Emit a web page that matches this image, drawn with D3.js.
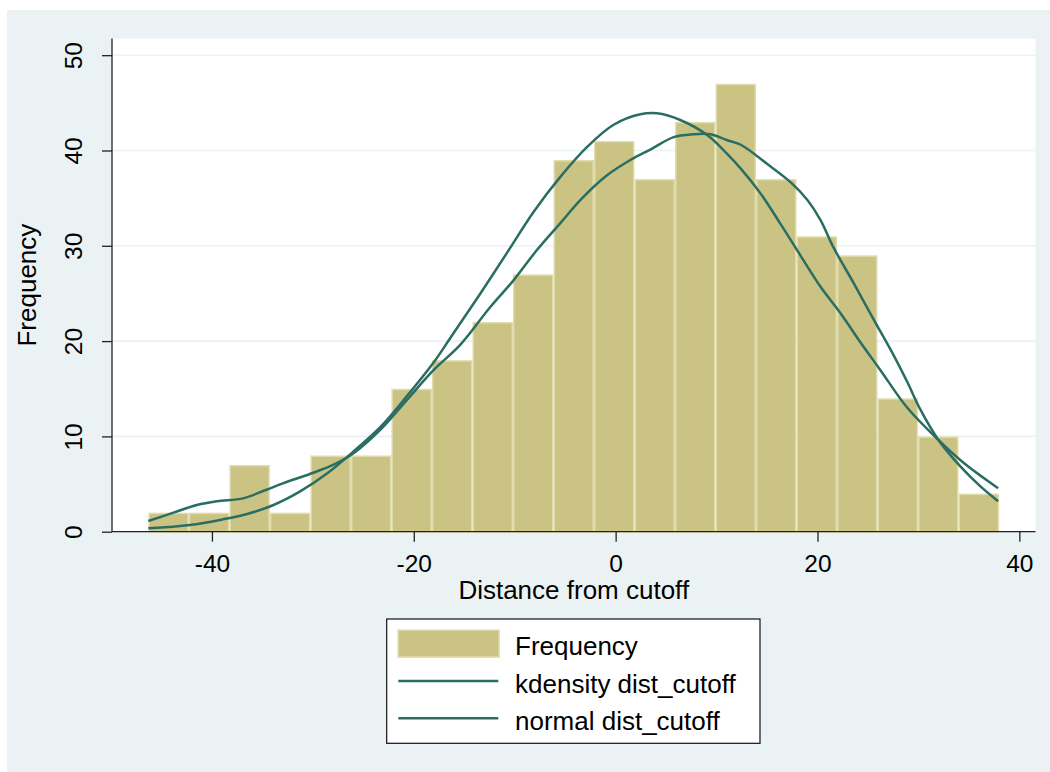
<!DOCTYPE html>
<html lang="en">
  <head>
    <meta charset="UTF-8" />
    <title>Distance from cutoff</title>
    <style>
      body {
        margin: 0;
        background: #ffffff;
      }
      svg {
        display: block;
        font-family: 'Liberation Sans', Arial, sans-serif;
      }
    </style>
  </head>
  <body>
    <svg width="1050" height="772"></svg>
    <script src="https://d3js.org/d3.v7.min.js"></script>
    <script>
      // histogram bins
      const binStart = -46.3;
      const binWidth = 4.014;
      const counts = [2, 2, 7, 2, 8, 8, 15, 18, 22, 27, 39, 41, 37, 43, 47, 37, 31, 29, 14, 10, 4];

      // kdensity curve
      const kdensX = [-46.3, -43.8, -41.5, -39.5, -36.9, -34.6, -32.9, -30.3, -28.0, -26.0, -23.3, -20.7,
        -18.0, -15.4, -12.4, -10.1, -7.8, -5.5, -3.5, -0.85, 1.46, 3.44, 5.75, 7.7, 9.4, 11.0, 12.4,
        15.0, 17.3, 19.0, 20.3, 21.6, 23.6, 25.6, 27.6, 28.9, 30.2, 32.0, 34.2, 36.2, 37.9];
      const kdensY = [1.12, 2.0, 2.8, 3.2, 3.5, 4.4, 5.1, 6.05, 7.0, 8.2, 10.7, 13.8,
        17.0, 19.6, 23.6, 26.4, 29.55, 32.35, 34.8, 37.4, 39.0, 40.1, 41.4, 41.7, 41.7, 41.1, 40.6,
        38.6, 36.7, 34.8, 32.7, 29.8, 26.05, 22.2, 18.4, 15.7, 12.8, 9.6, 6.8, 4.7, 3.2];

      // normal curve
      const normX = [-46.3, -42.2, -38.9, -36.5, -33.9, -31.3, -28.6, -26.0, -23.3, -20.7, -18.0, -16.4,
        -13.4, -10.8, -8.1, -5.5, -2.8, -0.2, 2.45, 4.1, 6.4, 9.1, 11.0, 12.4, 14.35, 16.3, 18.3,
        20.3, 22.3, 24.3, 26.2, 28.9, 32.0, 34.5, 37.9];
      const normY = [0.35, 0.7, 1.3, 1.86, 2.8, 4.2, 6.1, 8.4, 11.0, 14.2, 17.8, 20.3,
        25.0, 29.2, 33.6, 37.2, 40.4, 42.7, 43.8, 43.9, 43.2, 41.6, 39.7, 38.1, 35.5, 32.35, 29.0,
        25.7, 22.9, 19.8, 17.0, 13.0, 9.6, 7.2, 4.55];

      const xTicks = [-40, -20, 0, 20, 40];
      const yTicks = [0, 10, 20, 30, 40, 50];
      const legendLabels = ['Frequency', 'kdensity dist_cutoff', 'normal dist_cutoff'];

      const svg = d3.select('svg'),
        width = +svg.attr('width'),
        height = +svg.attr('height'),
        plot = { left: 112, right: 1035.5, top: 38.5, bottom: 531.7 };

      const barFill = '#cbc383',
        barLine = '#e0dcae',
        curveColor = '#2a6e63',
        bgColor = '#eaf2f3';

      const x = d3.scaleLinear().domain([-49.9, 41.6]).range([plot.left, plot.right]);
      const y = d3.scaleLinear().domain([0, 51.75]).range([plot.bottom, plot.top]);

      // graph region and plot region
      svg.append('rect').attr('x', 7).attr('y', 10)
        .attr('width', width - 7).attr('height', height - 10).attr('fill', bgColor);
      svg.append('rect').attr('x', plot.left).attr('y', plot.top)
        .attr('width', plot.right - plot.left).attr('height', plot.bottom - plot.top).attr('fill', '#fff');

      // grid
      svg.append('g')
        .selectAll('line')
        .data(yTicks.filter((d) => d > 0))
        .join('line')
        .attr('x1', plot.left).attr('x2', plot.right)
        .attr('y1', (d) => y(d)).attr('y2', (d) => y(d))
        .attr('stroke', bgColor).attr('stroke-width', 1.6);

      // bars
      const bins = counts.map((c, i) => ({ x0: binStart + i * binWidth, x1: binStart + (i + 1) * binWidth, n: c }));
      svg.append('g')
        .selectAll('rect')
        .data(bins)
        .join('rect')
        .attr('x', (d) => x(d.x0) + 0.75)
        .attr('width', (d) => x(d.x1) - x(d.x0) - 1.5)
        .attr('y', (d) => y(d.n) + 0.75)
        .attr('height', (d) => y(0) - y(d.n) - 0.75)
        .attr('fill', barFill)
        .attr('stroke', barLine)
        .attr('stroke-width', 1.5);

      // curves
      const line = d3.line().x((d) => x(d[0])).y((d) => y(d[1])).curve(d3.curveCatmullRom);
      const curves = [d3.zip(kdensX, kdensY), d3.zip(normX, normY)];
      svg.append('g')
        .selectAll('path')
        .data(curves)
        .join('path')
        .attr('d', line)
        .attr('fill', 'none')
        .attr('stroke', curveColor)
        .attr('stroke-width', 2.5)
        .attr('stroke-linejoin', 'round');

      // axes (plain hyphen for negatives, as in the original)
      const fmt = (d) => String(d);
      const xAxis = d3.axisBottom(x).tickValues(xTicks).tickSize(10).tickPadding(13).tickFormat(fmt);
      const gx = svg.append('g').attr('transform', `translate(0,${plot.bottom})`).call(xAxis);
      gx.select('.domain').attr('d', `M${plot.left},0H${plot.right}`).attr('stroke', '#222').attr('stroke-width', 1.3);
      gx.selectAll('.tick line').attr('stroke', '#222').attr('stroke-width', 1.3);
      gx.selectAll('.tick text').attr('font-size', 24.5).attr('fill', '#000').attr('font-family', null);

      const yAxis = d3.axisLeft(y).tickValues(yTicks).tickSize(10).tickFormat(fmt);
      const gy = svg.append('g').attr('transform', `translate(${plot.left},0)`).call(yAxis);
      gy.select('.domain').attr('d', `M0,${plot.top}V${plot.bottom}`).attr('stroke', '#222').attr('stroke-width', 1.3);
      gy.selectAll('.tick line').attr('stroke', '#222').attr('stroke-width', 1.3);
      gy.selectAll('.tick text')
        .attr('font-size', 24.5)
        .attr('fill', '#000')
        .attr('font-family', null)
        .attr('x', null).attr('dy', null)
        .attr('text-anchor', 'middle')
        .attr('transform', 'translate(-30.5,0) rotate(-90)');

      // axis titles
      svg.append('text')
        .attr('x', (plot.left + plot.right) / 2).attr('y', 599)
        .attr('text-anchor', 'middle').attr('font-size', 26)
        .text('Distance from cutoff');
      svg.append('text')
        .attr('transform', `translate(36,${(plot.top + plot.bottom) / 2}) rotate(-90)`)
        .attr('text-anchor', 'middle').attr('font-size', 26)
        .text('Frequency');

      // legend
      const legend = svg.append('g').attr('transform', 'translate(386.7,619)');
      legend.append('rect').attr('width', 373.3).attr('height', 124.3)
        .attr('fill', '#fff').attr('stroke', '#111').attr('stroke-width', 1.2);
      const rowY = [24.3, 62, 99.3];
      legend.append('rect').attr('x', 11.4).attr('y', 11.1).attr('width', 101).attr('height', 27)
        .attr('fill', barFill).attr('stroke', barLine).attr('stroke-width', 1.5);
      legend.selectAll('line')
        .data(rowY.slice(1))
        .join('line')
        .attr('x1', 11.6).attr('x2', 111.6)
        .attr('y1', (d) => d).attr('y2', (d) => d)
        .attr('stroke', curveColor).attr('stroke-width', 2.5);
      legend.selectAll('text')
        .data(legendLabels)
        .join('text')
        .attr('x', 128.3)
        .attr('y', (d, i) => rowY[i] + 11.7)
        .attr('font-size', 26)
        .text((d) => d);
    </script>
  </body>
</html>
